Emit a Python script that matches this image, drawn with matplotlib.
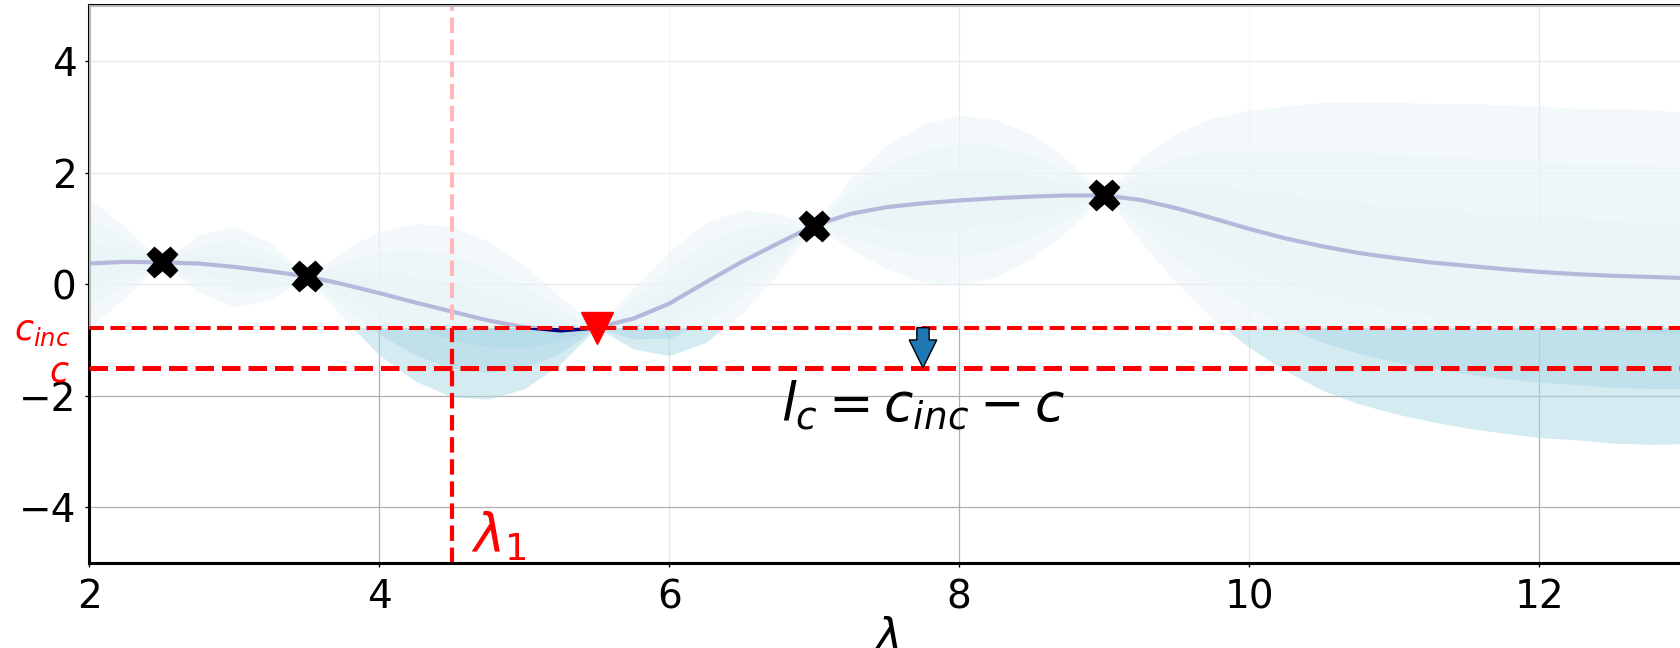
import numpy as np
import matplotlib
matplotlib.use("Agg")
import matplotlib.pyplot as plt
from matplotlib.transforms import blended_transform_factory

# ---------------- data ----------------
x_grid = [2.00, 2.25, 2.50, 2.75, 3.00, 3.25, 3.50, 3.75, 4.00, 4.25, 4.50,
          4.75, 5.00, 5.25, 5.50, 5.75, 6.00, 6.25, 6.50, 6.75, 7.00, 7.25,
          7.50, 7.75, 8.00, 8.25, 8.50, 8.75, 9.00, 9.25, 9.50, 9.75, 10.00,
          10.25, 10.50, 10.75, 11.00, 11.25, 11.50, 11.75, 12.00, 12.25,
          12.50, 12.75, 13.00]
gp_mean = [0.37, 0.40, 0.39, 0.37, 0.31, 0.23, 0.14, 0.00, -0.16, -0.33, -0.49,
           -0.65, -0.77, -0.83, -0.78, -0.62, -0.35, 0.03, 0.40, 0.73, 1.05, 1.26,
           1.38, 1.45, 1.50, 1.54, 1.57, 1.59, 1.59, 1.51, 1.36, 1.18, 0.99,
           0.82, 0.68, 0.56, 0.47, 0.39, 0.33, 0.27, 0.22, 0.18,
           0.15, 0.13, 0.11]
gp_std = [0.39, 0.21, 0.00, 0.17, 0.24, 0.17, 0.00, 0.20, 0.37, 0.47, 0.51,
          0.47, 0.37, 0.20, 0.00, 0.18, 0.31, 0.36, 0.31, 0.18, 0.00, 0.21,
          0.37, 0.47, 0.51, 0.47, 0.37, 0.21, 0.00, 0.25, 0.45, 0.60, 0.71,
          0.79, 0.86, 0.90, 0.93, 0.95, 0.97, 0.98, 0.99, 0.99,
          1.00, 1.00, 0.99]
band_levels = [3, 2, 1]

obs_x = [2.5, 3.5, 7.0, 9.0]
obs_y = [0.39, 0.14, 1.05, 1.59]

inc_x = 5.5
c_inc = -0.78
c_target = -1.50
lambda_1 = 4.5
arrow_x = 7.75

x_ticks = [2, 4, 6, 8, 10, 12]
y_ticks = [-4, -2, 0, 2, 4]
x_grid_dark = [4, 8, 12]
x_grid_pale = [6, 10]
y_grid_lines = [-4, -2, 0, 2, 4]

# ---------------- figure ----------------
plt.rcParams["font.family"] = ["DejaVu Sans"]
plt.rcParams["mathtext.fontset"] = "dejavusans"

fig = plt.figure(figsize=(16.81, 6.48), dpi=100)
ax = fig.add_axes([0.053, 0.131, 0.949, 0.861])
ax.set_xlim(2, 13)
ax.set_ylim(-5, 5)

xg = np.array(x_grid)
mu = np.array(gp_mean)
sd = np.array(gp_std)

# grid lines
ax.vlines(x_grid_dark, -5, 5, colors="#b0b0b0", lw=0.9, zorder=0.5)
ax.vlines(x_grid_pale, -5, 5, colors="#e4e4e4", lw=0.9, zorder=0.5)
ax.hlines(y_grid_lines, 2, 13, colors="#b0b0b0", lw=0.9, zorder=0.5)

# uncertainty bands
for k in band_levels:
    ax.fill_between(xg, mu - k * sd, mu + k * sd, color="lightblue",
                    alpha=0.5, lw=0, zorder=1)

# mean line
ax.plot(xg, mu, color="#000080", lw=3, zorder=2, solid_joinstyle="round")

# vertical candidate line
ax.axvline(lambda_1, color="red", ls="--", lw=3, zorder=2)

# white veil above the incumbent
ax.axhspan(c_inc, 5, color="white", alpha=0.72, lw=0, zorder=3)

# incumbent / target lines
ax.axhline(c_inc, color="red", ls="--", lw=2.9, zorder=4)
ax.axhline(c_target, color="red", ls="--", lw=3.6, zorder=4)

# observations
ax.plot(obs_x, obs_y, ls="none", marker="X", ms=22, color="black", zorder=6)
ax.plot([inc_x], [c_inc], ls="none", marker="v", ms=23, color="red", zorder=6)

# improvement arrow
ax.arrow(arrow_x, c_inc, 0, c_target - c_inc, width=0.085, head_width=0.19,
         head_length=0.5, length_includes_head=True, fc="#1f77b4",
         ec="black", lw=1, zorder=6)

ax.text(arrow_x, c_target - 0.95, r"$l_c = c_{inc} - c$", fontsize=38.5,
        ha="center", va="baseline", zorder=7)

trans_x = blended_transform_factory(ax.transData, ax.transAxes)
ax.text(lambda_1 + 0.13, 0.02, r"$\lambda_1$", color="red", fontsize=38,
        ha="left", va="baseline", transform=trans_x, zorder=7)

trans_y = blended_transform_factory(ax.transAxes, ax.transData)
ax.text(-0.012, c_inc - 0.22, r"$c_{inc}$", color="red", fontsize=25,
        ha="right", va="baseline", transform=trans_y)
ax.text(-0.012, c_target - 0.24, r"$c$", color="red", fontsize=25,
        ha="right", va="baseline", transform=trans_y)

# axes styling
ax.set_xticks(x_ticks)
ax.set_yticks(y_ticks)
ax.tick_params(axis="both", labelsize=28, length=3, width=1)
ax.tick_params(axis="x", pad=8)
ax.tick_params(axis="y", pad=6)
for side in ["left", "bottom", "top"]:
    ax.spines[side].set_linewidth(2.2)
    ax.spines[side].set_color("black")
ax.spines["right"].set_visible(False)
ax.set_xlabel(r"$\lambda$", fontsize=32, labelpad=0)

fig.savefig("out.png", dpi=100)
